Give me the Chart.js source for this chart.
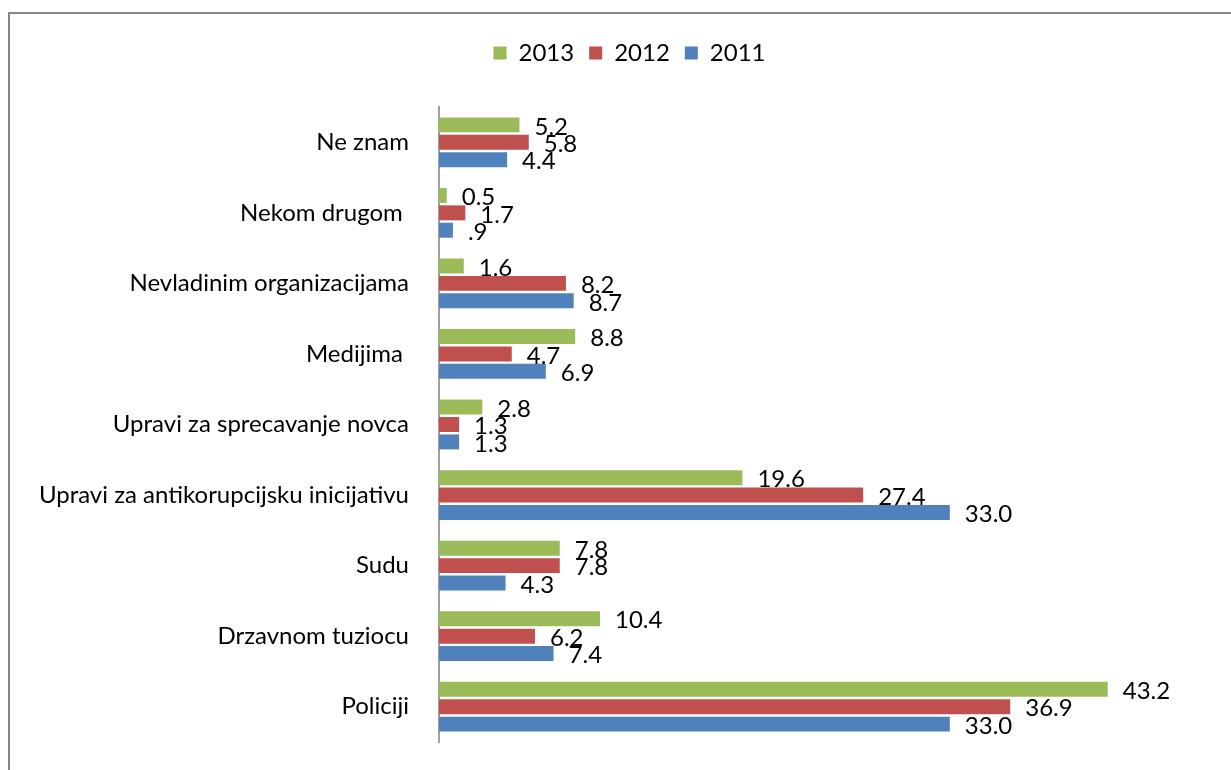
<!DOCTYPE html>
<html>
<head>
<meta charset="utf-8">
<script src="https://cdn.jsdelivr.net/npm/chart.js@4/dist/chart.umd.min.js"></script>
<style>
  html, body { margin: 0; padding: 0; background: #fff; }
  #wrap { width: 1231px; height: 770px; position: relative; }
</style>
</head>
<body>
<div id="wrap"><canvas id="c" width="1231" height="770"></canvas></div>
<script>
// Categories, top to bottom
const categories = [
  'Ne znam',
  'Nekom drugom ',
  'Nevladinim organizacijama',
  'Medijima ',
  'Upravi za sprecavanje novca',
  'Upravi za antikorupcijsku inicijativu',
  'Sudu',
  'Drzavnom tuziocu',
  'Policiji'
];

// Percentages per year
const values2013 = [5.2, 0.5, 1.6, 8.8, 2.8, 19.6, 7.8, 10.4, 43.2];
const values2012 = [5.8, 1.7, 8.2, 4.7, 1.3, 27.4, 7.8, 6.2, 36.9];
const values2011 = [4.4, 0.9, 8.7, 6.9, 1.3, 33.0, 4.3, 7.4, 33.0];

const seriesNames = ['2013', '2012', '2011'];
// Number formats of the value labels ('#.0' drops the leading zero)
const seriesFormats = ['0.0', '0.0', '#.0'];

const FONT = 'Lato, "Open Sans", sans-serif';
const FONT_SIZE = 24;

function formatValue(v, fmt) {
  let s = v.toFixed(1);
  if (fmt === '#.0' && Math.abs(v) < 1) s = s.replace(/^0/, '');
  return s;
}

// Grey frame around the chart area
const framePlugin = {
  id: 'frame',
  beforeDraw(chart) {
    const ctx = chart.ctx;
    ctx.save();
    ctx.fillStyle = '#ffffff';
    ctx.fillRect(0, 0, chart.width, chart.height);
    ctx.strokeStyle = '#868686';
    ctx.lineWidth = 2;
    ctx.strokeRect(9, 13, chart.width + 20, chart.height + 20);
    ctx.restore();
  }
};

// Nudge the legend row a little to the right
const legendShift = {
  id: 'legendShift',
  afterLayout(chart) {
    if (chart.legend) {
      chart.legend.left += 18;
      chart.legend.right += 18;
    }
  }
};

// Value labels to the right of each bar
const valueLabels = {
  id: 'valueLabels',
  afterDatasetsDraw(chart) {
    const ctx = chart.ctx;
    ctx.save();
    ctx.font = FONT_SIZE + 'px ' + FONT;
    ctx.fillStyle = '#000';
    ctx.textAlign = 'left';
    ctx.textBaseline = 'middle';
    chart.data.datasets.forEach((ds, di) => {
      const meta = chart.getDatasetMeta(di);
      meta.data.forEach((bar, i) => {
        const txt = formatValue(ds.data[i], ds.numberFormat);
        ctx.fillText(txt, bar.x + 15, bar.y + 2);
      });
    });
    ctx.restore();
  }
};

new Chart(document.getElementById('c'), {
  type: 'bar',
  data: {
    labels: categories,
    datasets: [
      { label: seriesNames[0], data: values2013, backgroundColor: '#9BBB59', numberFormat: seriesFormats[0] },
      { label: seriesNames[1], data: values2012, backgroundColor: '#C0504D', numberFormat: seriesFormats[1] },
      { label: seriesNames[2], data: values2011, backgroundColor: '#4F81BD', numberFormat: seriesFormats[2] }
    ]
  },
  options: {
    indexAxis: 'y',
    responsive: false,
    animation: false,
    categoryPercentage: 0.74,
    barPercentage: 0.86,
    layout: { padding: { left: 10, right: 18, top: 26, bottom: 28 } },
    plugins: {
      legend: {
        display: true,
        position: 'top',
        align: 'center',
        labels: {
          font: { size: FONT_SIZE, family: FONT, lineHeight: 1.2 },
          color: '#000',
          boxWidth: 13,
          boxHeight: 13,
          padding: 15
        }
      },
      tooltip: { enabled: false }
    },
    scales: {
      x: {
        position: 'top',
        display: true,
        min: 0,
        max: 50,
        grid: { display: false, drawTicks: false },
        border: { display: false },
        ticks: { display: false },
        afterFit(scale) { scale.height = 32; }
      },
      y: {
        grid: { display: false, drawTicks: false },
        border: { display: true, color: '#a0a0a0', width: 2 },
        ticks: {
          font: { size: FONT_SIZE, family: FONT },
          color: '#000',
          padding: 30
        },
        afterFit(scale) {
          scale.width = 429;
          scale.paddingTop = 0;
          scale.paddingBottom = 0;
        }
      }
    }
  },
  plugins: [framePlugin, legendShift, valueLabels]
});
</script>
</body>
</html>
